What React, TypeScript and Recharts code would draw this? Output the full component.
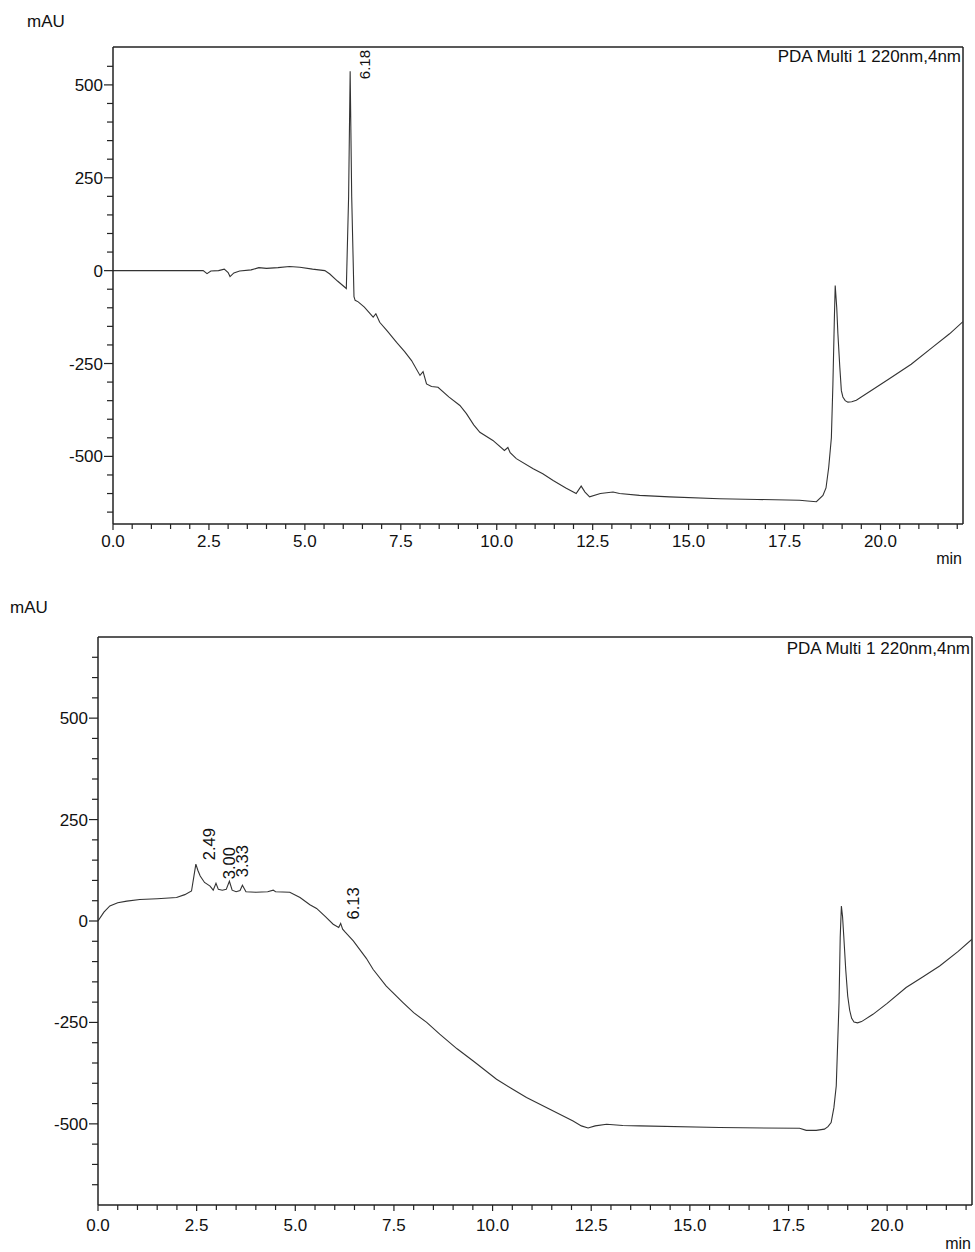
import React from 'react';
import { ComposedChart, Line, Scatter, XAxis, YAxis, ReferenceLine } from 'recharts';

const FONT = '"Liberation Sans", Arial, Helvetica, sans-serif';

// ---------- Top chromatogram ----------
const topTimes = [
  0, 1.0, 2.0, 2.35, 2.45, 2.55, 2.75, 2.9, 3.0, 3.05, 3.15, 3.3, 3.6, 3.8, 4.0, 4.3, 4.6, 4.87, 5.2, 5.52,
  5.65, 5.85, 6.08, 6.14, 6.18, 6.22, 6.28, 6.31, 6.39, 6.55, 6.78, 6.85, 6.95, 7.15, 7.39, 7.6, 7.78,
  8.0, 8.08, 8.17, 8.3, 8.47, 8.75, 9.04, 9.21, 9.4, 9.56, 9.9, 10.2, 10.29, 10.35, 10.51, 10.95, 11.2, 11.47,
  11.8, 12.07, 12.2, 12.3, 12.42, 12.7, 13.03, 13.2, 13.72, 14.5, 15.81, 16.8, 17.89, 18.1, 18.33, 18.5,
  18.58, 18.65, 18.72, 18.76, 18.8, 18.82, 18.86, 18.89, 18.94, 18.98, 19.02, 19.08, 19.15, 19.25, 19.37,
  19.8, 20.23, 20.8, 21.36, 21.8, 22.15,
];
const topValues = [
  0, 0, 0, 0, -8, -1, 0, 4, -5, -16, -6, -1, 2, 8, 6, 8, 11, 9, 4, 0,
  -9, -28, -48, 200, 537, 200, -70, -80, -84, -98, -125, -116, -139, -163, -193, -218, -242,
  -282, -272, -305, -312, -314, -340, -363, -385, -415, -435, -457, -484, -476, -490, -506, -533, -547, -565,
  -585, -600, -580, -596, -609, -600, -596, -600, -605, -609, -614, -616, -618, -620, -622, -605,
  -585, -530, -450, -305, -120, -40, -100, -170, -260, -323, -340, -350, -354, -353, -349,
  -320, -291, -252, -206, -170, -137,
];
const topPeakTimes = [6.18];
const topPeakValues = [537];
const topPeakLabels = ['6.18'];

// ---------- Bottom chromatogram ----------
const bottomTimes = [
  0, 0.15, 0.3, 0.5, 0.73, 1.06, 1.5, 1.99, 2.2, 2.37, 2.43, 2.48, 2.53, 2.59, 2.7, 2.84, 2.92, 2.99, 3.05,
  3.15, 3.25, 3.33, 3.4, 3.5, 3.6, 3.66, 3.75, 4.0, 4.3, 4.44, 4.5, 4.86, 5.12, 5.37, 5.54, 5.75, 5.96, 6.1,
  6.15, 6.2, 6.26, 6.47, 6.8, 6.97, 7.3, 7.73, 8.0, 8.33, 8.66, 9.1, 9.51, 10.1, 10.5, 10.86, 11.45, 12.04,
  12.25, 12.42, 12.6, 12.89, 13.3, 13.73, 15.75, 17.78, 17.95, 18.2, 18.41, 18.5, 18.58, 18.65, 18.71, 18.78,
  18.81, 18.84, 18.87, 18.9, 18.95, 19.0, 19.05, 19.1, 19.16, 19.25, 19.35, 19.64, 20.0, 20.48, 20.9, 21.33,
  21.8, 22.15,
];
const bottomValues = [
  0, 22, 37, 45, 49, 53, 55, 58, 65, 74, 110, 140, 125, 111, 95, 86, 76, 93, 78,
  76, 78, 98, 76, 72, 75, 88, 72, 71, 72, 76, 72, 71, 58, 40, 31, 12, -8, -16,
  -6, -20, -27, -49, -92, -119, -160, -201, -226, -250, -279, -315, -345, -390, -414, -435, -464, -493,
  -505, -510, -505, -501, -504, -505, -509, -511, -516, -516, -513, -507, -497, -460, -406, -201,
  -40, 37, 10, -37, -120, -185, -220, -240, -249, -251, -248, -230, -203, -164, -138, -111,
  -75, -45,
];
const bottomPeakTimes = [2.49, 3.0, 3.33, 6.13];
const bottomPeakValues = [140, 93, 98, -6];
const bottomPeakLabels = ['2.49', '3.00', '3.33', '6.13'];

// ---------- Axes ----------
const X_MAX = 22.15;
const xTicks = Array.from({ length: 45 }, (_, i) => i * 0.5);
const topYDomain: [number, number] = [-682, 602];
const bottomYDomain: [number, number] = [-700, 700];
const topYTicks = [-650, -600, -550, -500, -450, -400, -350, -300, -250, -200, -150, -100, -50, 0, 50, 100, 150, 200, 250, 300, 350, 400, 450, 500, 550];
const bottomYTicks = [-650, -600, -550, -500, -450, -400, -350, -300, -250, -200, -150, -100, -50, 0, 50, 100, 150, 200, 250, 300, 350, 400, 450, 500, 550, 600, 650];

const AXIS = '#222';

const makeYTick = (fontSize: number) => (props: any) => {
  const { x, y, payload } = props;
  const v = payload.value;
  const major = v % 250 === 0;
  return (
    <g>
      <line x1={x - (major ? 9 : 6)} x2={x} y1={y} y2={y} stroke={AXIS} strokeWidth={1.2} />
      {major && (
        <text x={x - 10} y={y + 6} textAnchor="end" fontSize={fontSize} fontFamily={FONT} fill="#111">
          {v}
        </text>
      )}
    </g>
  );
};

const makeXTick = (fontSize: number, labelOffset: number) => (props: any) => {
  const { x, y, payload } = props;
  const v = payload.value;
  const major = Math.abs(v / 2.5 - Math.round(v / 2.5)) < 1e-6;
  return (
    <g>
      <line x1={x} x2={x} y1={y} y2={y + (major ? 6 : 5)} stroke={AXIS} strokeWidth={1.2} />
      {major && (
        <text x={x} y={y + labelOffset} textAnchor="middle" fontSize={fontSize} fontFamily={FONT} fill="#111">
          {v.toFixed(1)}
        </text>
      )}
    </g>
  );
};

const makePeakShape = (fontSize: number, dx: number, dy: number) => (props: any) => {
  const { cx, cy, payload } = props;
  return (
    <text
      transform={`translate(${cx + dx},${cy + dy}) rotate(-90)`}
      fontSize={fontSize}
      fontFamily={FONT}
      fill="#111"
      textAnchor="start"
    >
      {payload.label}
    </text>
  );
};

type ChromProps = {
  times: number[];
  values: number[];
  peakTimes: number[];
  peakValues: number[];
  peakLabels: string[];
  yDomain: [number, number];
  yTicks: number[];
  width: number;
  height: number;
  margin: { top: number; right: number; bottom: number; left: number };
  fontSize: number;
  xLabelOffset: number;
  peakFont: number;
  peakDx: number;
  peakDy: number;
};

function Chromatogram(p: ChromProps) {
  const data = p.times.map((t, i) => ({ t, v: p.values[i] }));
  const peaks = p.peakTimes.map((t, i) => ({ t, v: p.peakValues[i], label: p.peakLabels[i] }));
  return (
    <ComposedChart width={p.width} height={p.height} margin={p.margin}>
      <XAxis
        dataKey="t"
        type="number"
        domain={[0, X_MAX]}
        allowDataOverflow
        ticks={xTicks}
        interval={0}
        tickSize={0}
        tickMargin={0}
        tickLine={false}
        axisLine={{ stroke: AXIS, strokeWidth: 1.5 }}
        tick={makeXTick(p.fontSize, p.xLabelOffset)}
        height={30}
      />
      <YAxis
        dataKey="v"
        type="number"
        domain={p.yDomain}
        allowDataOverflow
        ticks={p.yTicks}
        interval={0}
        tickSize={0}
        tickMargin={0}
        tickLine={false}
        axisLine={{ stroke: AXIS, strokeWidth: 1.5 }}
        tick={makeYTick(p.fontSize)}
        width={60}
      />
      <ReferenceLine y={p.yDomain[1]} stroke={AXIS} strokeWidth={1.5} />
      <ReferenceLine x={X_MAX} stroke={AXIS} strokeWidth={1.5} />
      <Line
        data={data}
        dataKey="v"
        type="linear"
        stroke="#333"
        strokeWidth={1.1}
        dot={false}
        activeDot={false}
        isAnimationActive={false}
      />
      <Scatter data={peaks} dataKey="v" shape={makePeakShape(p.peakFont, p.peakDx, p.peakDy)} isAnimationActive={false} />
    </ComposedChart>
  );
}

const textStyle = { fontFamily: FONT, fill: '#111' } as const;

export default function App() {
  return (
    <div style={{ position: 'absolute', left: 0, top: 0, width: 975, height: 1252, background: '#fff' }}>
      <div style={{ position: 'absolute', left: 0, top: 0 }}>
        <Chromatogram
          times={topTimes}
          values={topValues}
          peakTimes={topPeakTimes}
          peakValues={topPeakValues}
          peakLabels={topPeakLabels}
          yDomain={topYDomain}
          yTicks={topYTicks}
          width={975}
          height={560}
          margin={{ top: 47, right: 12, bottom: 6, left: 53 }}
          fontSize={17}
          xLabelOffset={23}
          peakFont={15}
          peakDx={20}
          peakDy={8}
        />
      </div>
      <div style={{ position: 'absolute', left: 0, top: 580 }}>
        <Chromatogram
          times={bottomTimes}
          values={bottomValues}
          peakTimes={bottomPeakTimes}
          peakValues={bottomPeakValues}
          peakLabels={bottomPeakLabels}
          yDomain={bottomYDomain}
          yTicks={bottomYTicks}
          width={975}
          height={672}
          margin={{ top: 57, right: 3, bottom: 17, left: 38 }}
          fontSize={17}
          xLabelOffset={26}
          peakFont={16.5}
          peakDx={19}
          peakDy={-4}
        />
      </div>
      <svg width={975} height={1252} style={{ position: 'absolute', left: 0, top: 0, pointerEvents: 'none' }}>
        <text x={27} y={27} fontSize={17} {...textStyle}>mAU</text>
        <text x={961} y={62} fontSize={17} textAnchor="end" {...textStyle}>PDA Multi 1 220nm,4nm</text>
        <text x={962} y={564} fontSize={16} textAnchor="end" {...textStyle}>min</text>
        <text x={10} y={613} fontSize={17} {...textStyle}>mAU</text>
        <text x={970} y={654} fontSize={17} textAnchor="end" {...textStyle}>PDA Multi 1 220nm,4nm</text>
        <text x={971} y={1249} fontSize={16} textAnchor="end" {...textStyle}>min</text>
      </svg>
    </div>
  );
}
